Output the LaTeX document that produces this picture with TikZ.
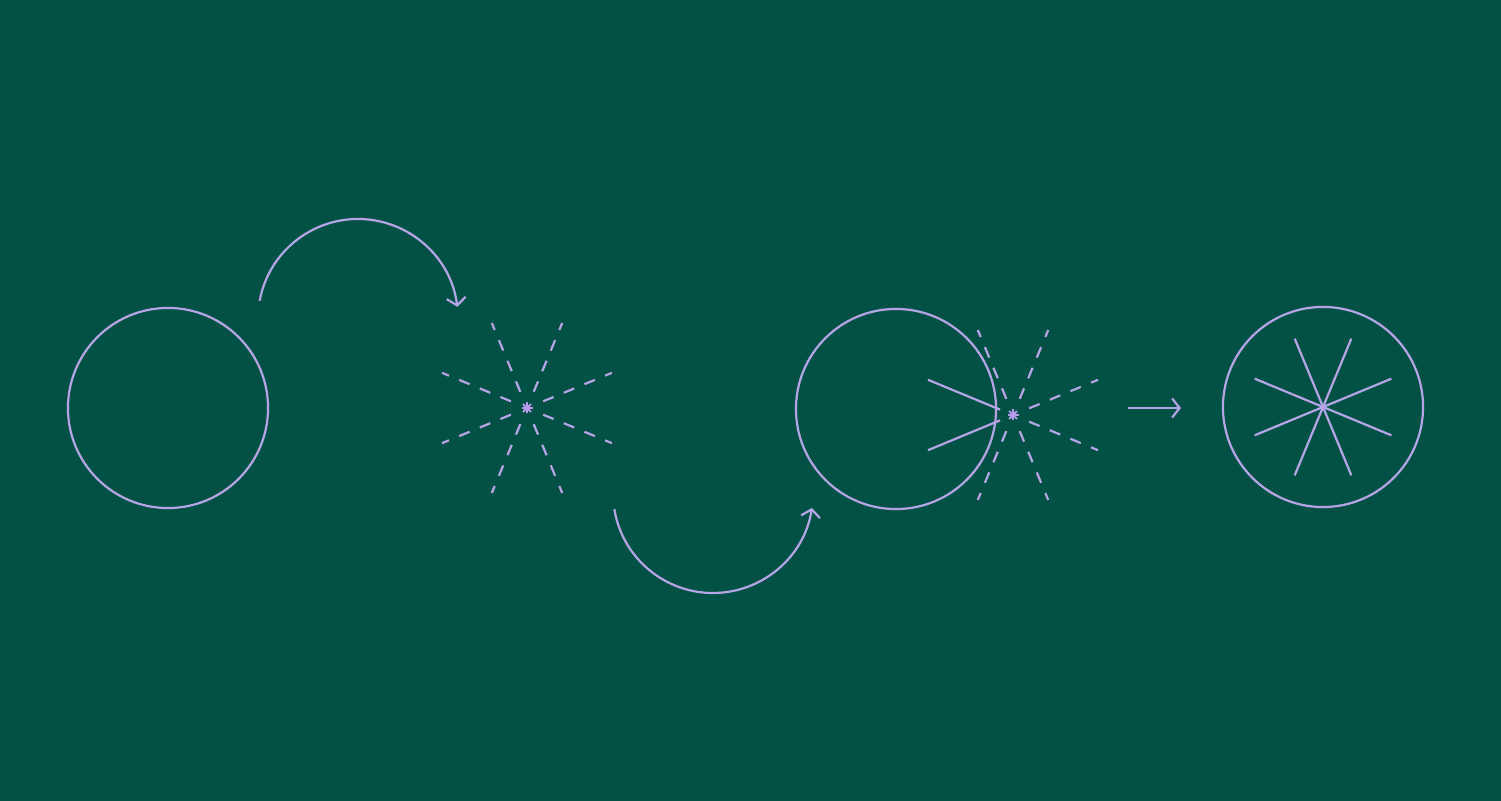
\documentclass[tikz,border=0pt]{standalone}
\usetikzlibrary{arrows.meta}
\definecolor{bg}{HTML}{015245}
\definecolor{lav}{HTML}{B3A5E6}
\definecolor{lavdot}{HTML}{B79AEA}
\tikzset{
  ln/.style={draw=lav, line width=0.022cm},
  ring/.style={ln, circle, minimum size=2cm, inner sep=0pt},
  dray/.style={ln, dash pattern=on 0.113cm off 0.11cm},
  arr/.style={ln, -{Straight Barb[length=0.075cm,width=0.19cm,line width=0.022cm]}},
  dot/.style={draw=lavdot, line width=0.018cm}
}
\begin{document}
\begin{tikzpicture}[x=0.01cm,y=-0.01cm]
\fill[bg] (0,0) rectangle (1501,801);
\useasboundingbox (0,0) rectangle (1501,801);
% circles
\node[ring] (c1) at (168,408) {};
\node[ring] (c3) at (896,409) {};
\node[ring] (c4) at (1323,407) {};
% star centers
\coordinate (s1) at (527,408);
\coordinate (s2) at (1013,415);
% arcs
\draw[arr] (358,319) ++(190.5:100) arc[start angle=190.5, end angle=353, radius=100];
\draw[arr] (713,493) ++(170.7:100) arc[start angle=170.7, end angle=8.6, radius=100];
% straight arrow
\coordinate (a0) at (1128,408);
\coordinate (a1) at (1181,408);
\draw[arr] (a0) -- (a1);
% star 1 dashed rays
\foreach \a in {22.5,67.5,...,360} {
  \draw[dray] (s1) ++(\a:17.5) -- ++(\a:74.5);
}
\foreach \a in {0,45,...,315} { \draw[dot] (s1) -- ++(\a:5.5); }
% star 2: dashed rays except the two left ones, which are solid
\foreach \a in {22.5,67.5,112.5,247.5,292.5,337.5} {
  \draw[dray] (s2) ++(\a:17.5) -- ++(\a:74.5);
}
\foreach \a in {157.5,202.5} {
  \draw[ln] (s2) ++(\a:14) -- ++(\a:78);
}
\foreach \a in {0,45,...,315} { \draw[dot] (s2) -- ++(\a:5.5); }
% star 4 solid
\foreach \a in {22.5,67.5,112.5,157.5} {
  \draw[ln] (c4.center) ++(\a:74) -- ++(\a+180:148);
}
\end{tikzpicture}
\end{document}
